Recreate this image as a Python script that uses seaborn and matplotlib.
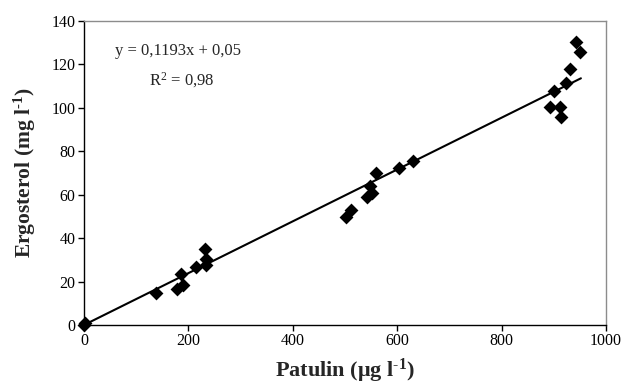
import matplotlib
matplotlib.use("Agg")
import matplotlib.pyplot as plt
import seaborn as sns
import numpy as np
import pandas as pd

patulin = [0, 2, 138, 179, 190, 185, 215, 232, 233, 234,
           502, 512, 542, 552, 547, 559, 603, 630,
           892, 900, 911, 913, 924, 932, 942, 951]
ergosterol = [0, 1, 14.6, 16.4, 18.4, 23.5, 26.6, 34.9, 30.3, 27.6,
              49.6, 53.0, 59.1, 60.7, 64.0, 69.9, 72.2, 75.7,
              100.3, 107.9, 100.3, 95.7, 111.3, 117.9, 130.5, 125.9]
slope = 0.1193
intercept = 0.05
line_x = [0, 952]
equation = "y = 0,1193x + 0,05"
r2_text = "R$^2$ = 0,98"
x_ticks = [0, 200, 400, 600, 800, 1000]
y_ticks = [0, 20, 40, 60, 80, 100, 120, 140]

sns.set_theme(style="white")
plt.rcParams["font.family"] = ["Liberation Serif", "DejaVu Serif"]
plt.rcParams["mathtext.fontset"] = "custom"
plt.rcParams["mathtext.rm"] = "Liberation Serif"
plt.rcParams["mathtext.it"] = "Liberation Serif:italic"
plt.rcParams["mathtext.bf"] = "Liberation Serif:bold"

df = pd.DataFrame({"Patulin": patulin, "Ergosterol": ergosterol})
line_df = pd.DataFrame({"x": line_x, "y": [slope * v + intercept for v in line_x]})

fig = plt.figure(figsize=(6.24, 3.87), dpi=100)
ax = fig.add_axes([0.1346, 0.160, 0.8365, 0.7857])

sns.lineplot(data=line_df, x="x", y="y", ax=ax, color="black", linewidth=1.5, zorder=2)
sns.scatterplot(data=df, x="Patulin", y="Ergosterol", ax=ax, marker="D", s=50,
                color="black", edgecolor="black", linewidth=0, zorder=3, clip_on=False)

ax.set_xlim(0, 1000)
ax.set_ylim(0, 140)
ax.set_xticks(x_ticks)
ax.set_yticks(y_ticks)
ax.tick_params(axis="both", which="major", direction="out", length=4, width=1,
               colors="black", labelsize=11.5, bottom=True, left=True, pad=2)
for side in ["left", "bottom"]:
    ax.spines[side].set_color("black")
    ax.spines[side].set_linewidth(1.0)
for side in ["top", "right"]:
    ax.spines[side].set_color("#8c8c8c")
    ax.spines[side].set_linewidth(1.0)
ax.grid(False)

ax.set_xlabel("Patulin (μg l$^{\\mathbf{\\text{-}1}}$)", fontsize=16, fontweight="bold", labelpad=5)
ax.set_ylabel("Ergosterol (mg l$^{\\mathbf{\\text{-}1}}$)", fontsize=15.5, fontweight="bold", labelpad=10)

ax.text(0.06, 0.90, equation, transform=ax.transAxes, fontsize=12, ha="left", va="center")
ax.text(0.125, 0.805, r2_text, transform=ax.transAxes, fontsize=12, ha="left", va="center")

fig.savefig("out.png", dpi=100)
